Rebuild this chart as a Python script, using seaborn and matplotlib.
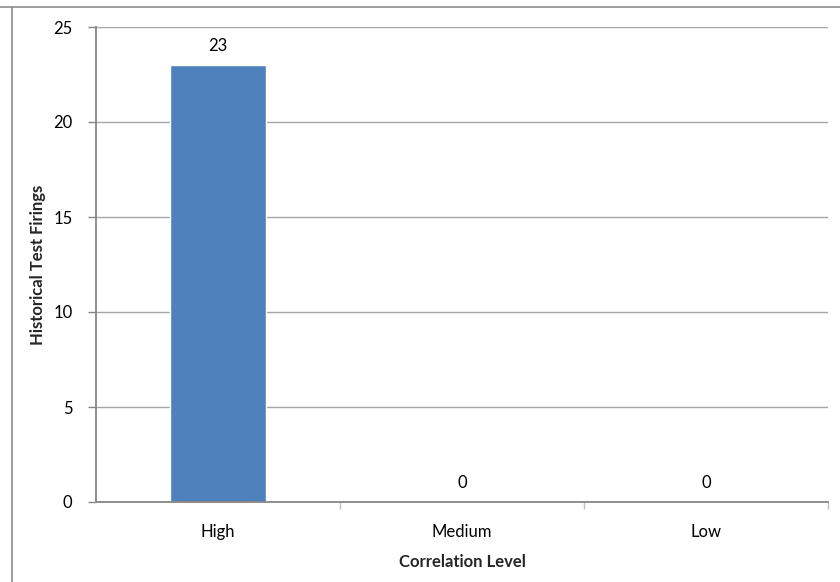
import matplotlib
matplotlib.use("Agg")
import matplotlib.pyplot as plt
from matplotlib.lines import Line2D
import seaborn as sns
import pandas as pd

levels = ["High", "Medium", "Low"]
firings = [23, 0, 0]

sns.set_style("white")
plt.rcParams["font.family"] = ["Lato", "DejaVu Sans"]

df = pd.DataFrame({"Correlation Level": levels, "Historical Test Firings": firings})

fig = plt.figure(figsize=(8.4, 5.82), dpi=100)
ax = fig.add_axes([96 / 840, 1 - 502 / 582, (828 - 96) / 840, (502 - 27) / 582])

sns.barplot(data=df, x="Correlation Level", y="Historical Test Firings",
            color="#4f81bd", saturation=1, width=0.39, ax=ax, zorder=3)

ax.set_ylim(0, 25)
ax.set_xlim(-0.5, 2.5)
ax.set_yticks([0, 5, 10, 15, 20, 25])
ax.yaxis.grid(True, color="#a6a6a6", linewidth=1.0, zorder=0)
ax.set_axisbelow(True)

for side in ["top", "right"]:
    ax.spines[side].set_visible(False)
for side in ["left", "bottom"]:
    ax.spines[side].set_color("#868686")
    ax.spines[side].set_linewidth(1.3)
    ax.spines[side].set_zorder(4)

# value labels above each bar
for i, v in enumerate(firings):
    ax.text(i, v + 0.6, f"{v}", ha="center", va="bottom", fontsize=12, color="black")

# category ticks sit at the boundaries between bars
ax.set_xticks([0, 1, 2])
ax.set_xticklabels(levels, fontsize=12)
ax.set_xticks([0.5, 1.5, 2.5], minor=True)
ax.tick_params(axis="x", which="major", length=0, pad=16)
ax.tick_params(axis="x", which="minor", length=5, width=1, direction="out", colors="#c0c0c0")
ax.tick_params(axis="y", length=6, width=1, direction="out", labelsize=12, pad=11,
               color="#868686", labelcolor="black")
ax.tick_params(axis="x", which="major", labelcolor="black")
ax.yaxis.set_ticks_position("left")
ax.xaxis.set_ticks_position("bottom")

ax.set_xlabel("Correlation Level", fontsize=12, fontweight="bold", labelpad=10)
ax.set_ylabel("Historical Test Firings", fontsize=12, fontweight="bold", labelpad=5)

# outer chart border (top and left edges)
fig.add_artist(Line2D([0, 1], [1 - 7 / 582, 1 - 7 / 582], transform=fig.transFigure,
                      color="#8c8c8c", linewidth=1.2))
fig.add_artist(Line2D([12 / 840, 12 / 840], [0, 1 - 7 / 582], transform=fig.transFigure,
                      color="#8c8c8c", linewidth=1.2))

fig.savefig("out.png", dpi=100, facecolor="white")
